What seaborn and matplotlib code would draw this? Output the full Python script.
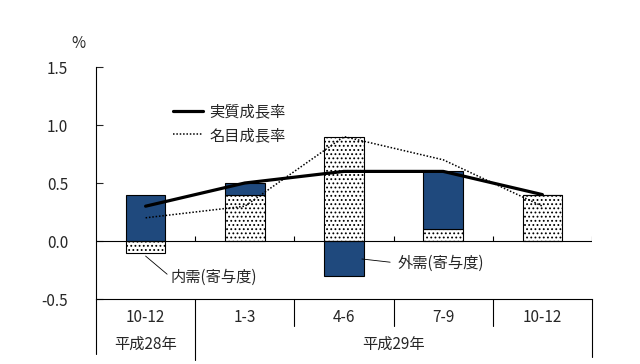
import numpy as np
import pandas as pd
import matplotlib
matplotlib.use("Agg")
import matplotlib.pyplot as plt
import seaborn as sns

# ---- data ----
categories = ["平成28年10-12", "平成29年1-3", "平成29年4-6", "平成29年7-9", "平成29年10-12"]
quarter_labels = ["10-12", "1-3", "4-6", "7-9", "10-12"]
year_labels = ["平成28年", "平成29年"]
domestic = [-0.1, 0.4, 0.9, 0.1, 0.4]      # 内需(寄与度)
external = [0.4, 0.1, -0.3, 0.5, 0.0]      # 外需(寄与度)
real_growth = [0.3, 0.5, 0.6, 0.6, 0.4]    # 実質成長率
nominal_growth = [0.2, 0.3, 0.9, 0.7, 0.3] # 名目成長率

sns.set_style("white")
plt.rcParams["font.family"] = ["Noto Sans CJK JP", "DejaVu Sans"]
plt.rcParams["axes.unicode_minus"] = False
plt.rcParams["hatch.linewidth"] = 0.8

fig = plt.figure(figsize=(6.4, 3.64), dpi=100)
ax = fig.add_axes([96 / 640, 1 - 299 / 364, 496 / 640, 232 / 364])

df = pd.DataFrame({"cat": categories, "dom": domestic, "ext": external,
                   "real": real_growth, "nom": nominal_growth})

# stacking: positives on positives, negatives on negatives
ext_bottom = [d if (e >= 0 and d > 0) or (e < 0 and d < 0) else 0.0
              for d, e in zip(domestic, external)]
df["ext_bottom"] = ext_bottom

navy = "#1F497D"
sns.barplot(data=df, x="cat", y="dom", ax=ax, color="white", edgecolor="black",
            linewidth=0.8, hatch="....", width=0.4, saturation=1, zorder=2)
sns.barplot(data=df, x="cat", y="ext", ax=ax, color=navy, edgecolor="black",
            linewidth=0.8, width=0.4, saturation=1, bottom=df["ext_bottom"].to_numpy(),
            zorder=2)

df["pos"] = np.arange(len(categories))
sns.lineplot(data=df, x="pos", y="real", ax=ax, color="black", linewidth=2.3,
             label="実質成長率", zorder=4)
sns.lineplot(data=df, x="pos", y="nom", ax=ax, color="black", linewidth=1.1,
             linestyle=(0, (1, 1.2)), label="名目成長率", zorder=4)

ax.set_xlim(-0.5, len(categories) - 0.5)
ax.set_ylim(-0.5, 1.5)
ax.set_yticks([-0.5, 0.0, 0.5, 1.0, 1.5])
ax.set_yticklabels([f"{v:.1f}" for v in [-0.5, 0.0, 0.5, 1.0, 1.5]])
ax.tick_params(axis="y", direction="in", length=5, width=0.8, pad=20, labelsize=11,
               left=True)
ax.set_xticks(range(len(categories)))
ax.set_xticklabels(quarter_labels)
ax.tick_params(axis="x", length=0, pad=7, labelsize=11)
ax.set_xlabel("")
ax.set_ylabel("")

for s in ["top", "right"]:
    ax.spines[s].set_visible(False)
for s in ["left", "bottom"]:
    ax.spines[s].set_color("black")
    ax.spines[s].set_linewidth(0.8)

# zero line with small upward ticks at boundaries
ax.axhline(0, color="black", linewidth=0.8, zorder=3)
bounds = np.arange(len(categories)) + 0.5
ax.vlines(bounds, 0, 0.04, color="black", linewidth=0.8, zorder=3)

# table-like axis below
tr = ax.get_xaxis_transform()
for b in bounds[1:-1]:
    ax.plot([b, b], [0, -0.116], transform=tr, color="black", lw=0.8, clip_on=False)
ax.plot([0.5, 0.5], [0, -0.263], transform=tr, color="black", lw=0.8, clip_on=False)
ax.plot([bounds[-1]] * 2, [0, -0.25], transform=tr, color="black", lw=0.8, clip_on=False)
ax.plot([-0.5, -0.5], [0, -0.235], transform=tr, color="black", lw=0.8, clip_on=False)
ax.text(0, -0.194, year_labels[0], transform=tr, ha="center", va="center", fontsize=11)
ax.text((1 + len(categories) - 1) / 2, -0.194, year_labels[1], transform=tr,
        ha="center", va="center", fontsize=11)

# unit label
fig.text(78 / 640, 1 - 43 / 364, "%", ha="center", va="center", fontsize=11)

# annotations
ax.annotate("内需(寄与度)", xy=(0.0, -0.13), xytext=(0.25, -0.31),
            fontsize=11, va="center", ha="left",
            arrowprops=dict(arrowstyle="-", color="black", lw=0.6,
                            shrinkA=0, shrinkB=0, relpos=(0, 0.5)))
ax.annotate("外需(寄与度)", xy=(2.18, -0.155), xytext=(2.54, -0.19),
            fontsize=11, va="center", ha="left",
            arrowprops=dict(arrowstyle="-", color="black", lw=0.6,
                            shrinkA=3, shrinkB=0, relpos=(0, 0.5)))

leg = ax.legend(loc="upper left", bbox_to_anchor=(0.155, 0.845), frameon=False,
                fontsize=11, handlelength=2.0, handletextpad=0.4,
                labelspacing=0.45, borderpad=0, borderaxespad=0)

fig.savefig("out.png", dpi=100)
